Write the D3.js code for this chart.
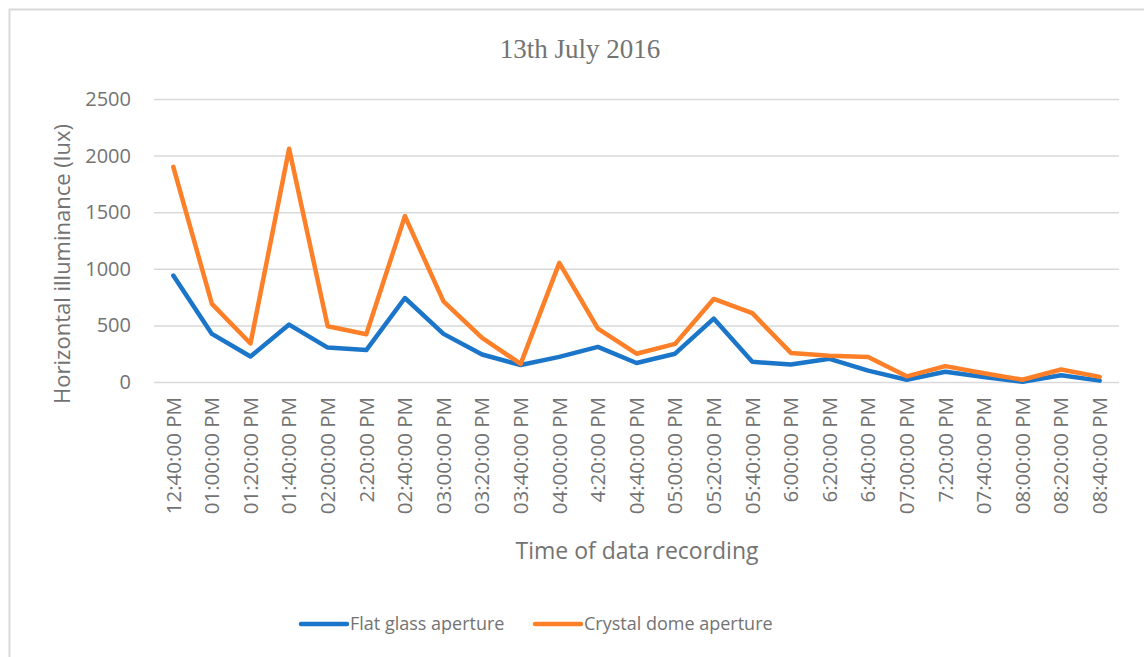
<!DOCTYPE html>
<html>
<head>
<meta charset="utf-8">
<script src="https://cdn.jsdelivr.net/npm/d3@7"></script>
<style>
  body { margin: 0; background: #fff; }
  text { fill: #737373; }
</style>
</head>
<body>
<svg width="1144" height="657"></svg>
<script>
const times = ["12:40:00 PM", "01:00:00 PM", "01:20:00 PM", "01:40:00 PM", "02:00:00 PM", "2:20:00 PM",
    "02:40:00 PM", "03:00:00 PM", "03:20:00 PM", "03:40:00 PM", "04:00:00 PM", "4:20:00 PM",
    "04:40:00 PM", "05:00:00 PM", "05:20:00 PM", "05:40:00 PM", "6:00:00 PM", "6:20:00 PM",
    "6:40:00 PM", "07:00:00 PM", "7:20:00 PM", "07:40:00 PM", "08:00:00 PM", "08:20:00 PM", "08:40:00 PM"];
const flatGlass = [940, 425, 225, 507, 304, 282, 742, 425, 243, 150, 222, 310,
    168, 250, 560, 178, 155, 205, 100, 20, 90, 45, 2, 60, 12];
const crystalDome = [1900, 690, 340, 2060, 492, 422, 1465, 712, 390, 160, 1052, 472,
    250, 337, 734, 608, 257, 232, 220, 50, 140, 78, 20, 110, 45];
const yTicks = [0, 500, 1000, 1500, 2000, 2500];

const series = [
    { name: "Flat glass aperture", values: flatGlass, color: "#1b75c9" },
    { name: "Crystal dome aperture", values: crystalDome, color: "#fd7f28" }
];

const svg = d3.select("svg");
const font = "'Open Sans', sans-serif";

// outer chart border (runs off the right and bottom)
svg.append("rect")
    .attr("x", 9.5).attr("y", 9.5)
    .attr("width", 1150).attr("height", 670)
    .attr("fill", "none").attr("stroke", "#d9d9d9").attr("stroke-width", 2);

const margin = { top: 99, right: 25, left: 154, bottom: 275 };
const innerWidth = 1144 - margin.left - margin.right;
const innerHeight = 657 - margin.top - margin.bottom;

const xScale = d3.scaleBand().domain(times).range([0, innerWidth]);
const yScale = d3.scaleLinear().domain([0, 2500]).range([innerHeight, 0]);

const g = svg.append("g")
    .attr("transform", `translate(${margin.left}, ${margin.top})`);

// gridlines + y labels
const yAxis = g.append("g")
    .call(d3.axisLeft(yScale).tickValues(yTicks).tickFormat(d3.format("d"))
        .tickSize(-innerWidth).tickPadding(23))
    .attr("font-family", font)
    .attr("font-size", 20);
yAxis.select(".domain").remove();
yAxis.selectAll("line").attr("stroke", "#d9d9d9").attr("stroke-width", 1.5);
yAxis.selectAll("text").attr("fill", "#737373");

// x labels, rotated
const xAxis = g.append("g")
    .attr("transform", `translate(0, ${innerHeight})`)
    .call(d3.axisBottom(xScale).tickSize(0))
    .attr("font-family", font)
    .attr("font-size", 20.5);
xAxis.select(".domain").remove();
xAxis.selectAll("text")
    .attr("fill", "#737373")
    .attr("text-anchor", "end")
    .attr("transform", "rotate(-90)")
    .attr("x", -15)
    .attr("y", 0)
    .attr("dy", "0.36em");

// lines
const line = d3.line()
    .x((d, i) => xScale(times[i]) + xScale.bandwidth() / 2)
    .y(d => yScale(d));

series.forEach(s => {
    g.append("path")
        .datum(s.values)
        .attr("fill", "none")
        .attr("stroke", s.color)
        .attr("stroke-width", 4.5)
        .attr("stroke-linejoin", "round")
        .attr("stroke-linecap", "round")
        .attr("d", line);
});

// title
svg.append("text")
    .attr("x", 580).attr("y", 58)
    .attr("text-anchor", "middle")
    .attr("font-family", "'Liberation Serif', serif")
    .attr("font-size", 27)
    .text("13th July 2016");

// axis titles
svg.append("text")
    .attr("transform", "translate(70, 264) rotate(-90)")
    .attr("text-anchor", "middle")
    .attr("font-family", font)
    .attr("font-size", 22)
    .text("Horizontal illuminance (lux)");

svg.append("text")
    .attr("x", 637).attr("y", 559)
    .attr("text-anchor", "middle")
    .attr("font-family", font)
    .attr("font-size", 23)
    .text("Time of data recording");

// legend
const legendX = [301, 535];
series.forEach((s, i) => {
    const lg = svg.append("g").attr("transform", `translate(${legendX[i]}, 624)`);
    lg.append("line")
        .attr("x1", 0).attr("x2", 46)
        .attr("stroke", s.color).attr("stroke-width", 4.5)
        .attr("stroke-linecap", "round");
    lg.append("text")
        .attr("x", 49).attr("y", 0).attr("dy", "0.35em")
        .attr("font-family", font)
        .attr("font-size", 18)
        .text(s.name);
});
</script>
</body>
</html>
